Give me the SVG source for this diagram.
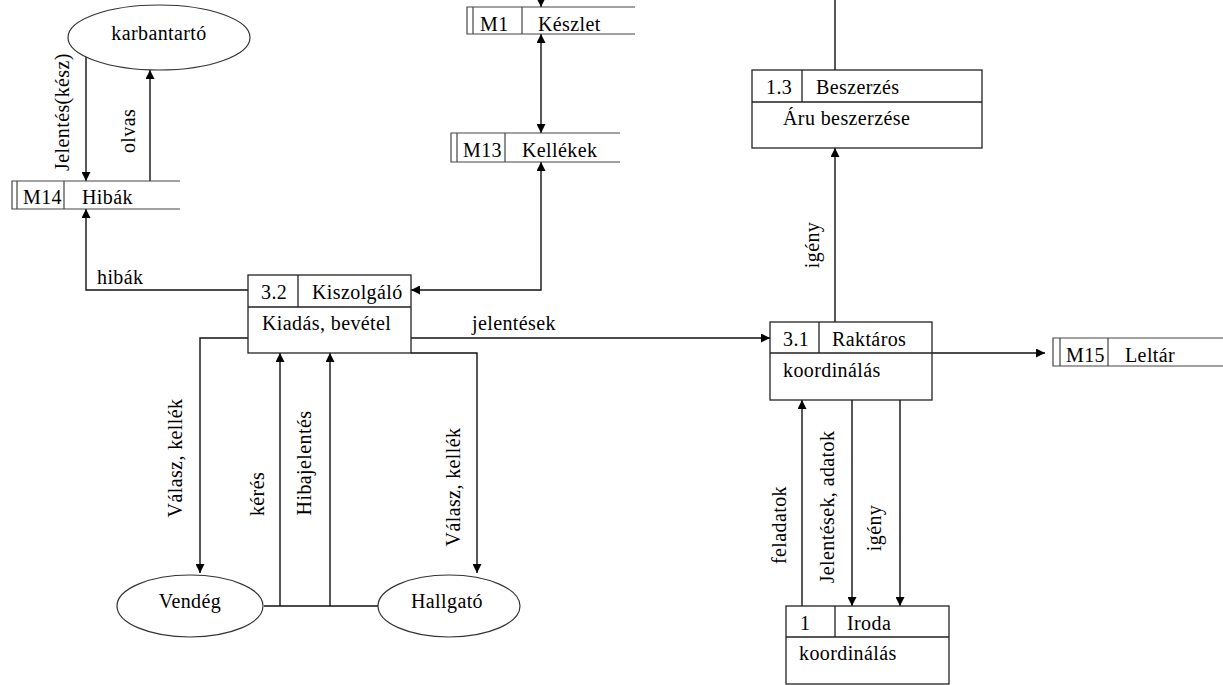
<svg xmlns="http://www.w3.org/2000/svg" width="1223" height="685" viewBox="0 0 1223 685">
  <defs>
    <marker id="arr" viewBox="0 0 10 10" refX="10" refY="5" markerWidth="9" markerHeight="9" markerUnits="userSpaceOnUse" orient="auto-start-reverse">
      <path d="M0,0 L10,5 L0,10 z" fill="#000"/>
    </marker>
    <style>
      text { font-family: "Times New Roman", "Liberation Serif", "DejaVu Serif", "Noto Serif", FreeSerif, Times, serif; font-size: 20px; fill: #000; letter-spacing: 0.4px; }
      .box { fill: #fff; stroke: #222; stroke-width: 1.3; }
      .ln { fill: none; stroke: #222; stroke-width: 1.3; }
      .st { fill: none; stroke: #444; stroke-width: 1.2; }
      .el { fill: #fff; stroke: #333; stroke-width: 1.2; }
      .mid { text-anchor: middle; }
      .flow { fill: none; stroke: #111; stroke-width: 1.4; }
    </style>
  </defs>

  <!-- data flows -->
  <g id="connectors">
    <path class="flow" d="M86,55 V181" marker-end="url(#arr)"/>
    <path class="flow" d="M150,181 V70" marker-end="url(#arr)"/>
    <path class="flow" d="M541,0 V7" marker-end="url(#arr)"/>
    <path class="flow" d="M541,34 V133" marker-start="url(#arr)" marker-end="url(#arr)"/>
    <path class="flow" d="M411,290 H541 V162" marker-start="url(#arr)" marker-end="url(#arr)"/>
    <path class="flow" d="M248,290 H86 V209" marker-end="url(#arr)"/>
    <path class="flow" d="M835,0 V70"/>
    <path class="flow" d="M835,322 V148" marker-end="url(#arr)"/>
    <path class="flow" d="M411,338 H770" marker-end="url(#arr)"/>
    <path class="flow" d="M932,353 H1045" marker-end="url(#arr)"/>
    <path class="flow" d="M248,338 H200 V573" marker-end="url(#arr)"/>
    <path class="flow" d="M411,353 H477 V573" marker-end="url(#arr)"/>
    <path class="flow" d="M264,606 H378"/>
    <path class="flow" d="M280,606 V353" marker-end="url(#arr)"/>
    <path class="flow" d="M330,606 V353" marker-end="url(#arr)"/>
    <path class="flow" d="M802,606 V400" marker-end="url(#arr)"/>
    <path class="flow" d="M852,400 V606" marker-end="url(#arr)"/>
    <path class="flow" d="M900,400 V606" marker-end="url(#arr)"/>

    <text transform="translate(69,112) rotate(-90)" class="mid">Jelentés(kész)</text>
    <text transform="translate(135,131) rotate(-90)" class="mid">olvas</text>
    <text x="97" y="284">hibák</text>
    <text x="472" y="330">jelentések</text>
    <text transform="translate(819,245) rotate(-90)" class="mid">igény</text>
    <text transform="translate(182,458) rotate(-90)" class="mid">Válasz, kellék</text>
    <text transform="translate(264,494) rotate(-90)" class="mid">kérés</text>
    <text transform="translate(311,463) rotate(-90)" class="mid">Hibajelentés</text>
    <text transform="translate(460,487) rotate(-90)" class="mid">Válasz, kellék</text>
    <text transform="translate(786,525) rotate(-90)" class="mid">feladatok</text>
    <text transform="translate(834,507) rotate(-90)" class="mid">Jelentések, adatok</text>
    <text transform="translate(881,528) rotate(-90)" class="mid">igény</text>
  </g>

  <!-- external entities -->
  <g id="karbantarto">
    <ellipse class="el" cx="159" cy="37.5" rx="91" ry="32.5"/>
    <text x="159" y="40" class="mid">karbantartó</text>
  </g>
  <g id="vendeg">
    <ellipse class="el" cx="190" cy="606" rx="73" ry="31"/>
    <text x="190" y="608" class="mid">Vendég</text>
  </g>
  <g id="hallgato">
    <ellipse class="el" cx="449" cy="606" rx="71" ry="31"/>
    <text x="447" y="608" class="mid">Hallgató</text>
  </g>

  <!-- data stores -->
  <g id="m14">
    <path class="st" d="M180,181 H12 V209 H180 M17,181 V209 M64,181 V209"/>
    <text x="23" y="204">M14</text>
    <text x="82" y="204">Hibák</text>
  </g>
  <g id="m1">
    <path class="st" d="M635,7 H467 V34 H635 M473,7 V34 M522,7 V34"/>
    <text x="480" y="31">M1</text>
    <text x="538" y="31">Készlet</text>
  </g>
  <g id="m13">
    <path class="st" d="M620,133 H451 V162 H620 M457,133 V162 M505,133 V162"/>
    <text x="463" y="157">M13</text>
    <text x="522" y="157">Kellékek</text>
  </g>
  <g id="m15">
    <path class="st" d="M1223,338 H1053 V366 H1223 M1060,338 V366 M1108,338 V366"/>
    <text x="1066" y="362">M15</text>
    <text x="1125" y="362">Leltár</text>
  </g>

  <!-- processes -->
  <g id="p13">
    <rect class="box" x="752" y="70" width="230" height="78"/>
    <path class="ln" d="M752,102 H982 M802,70 V102"/>
    <text x="766" y="94">1.3</text>
    <text x="816" y="94">Beszerzés</text>
    <text x="783" y="125">Áru beszerzése</text>
  </g>
  <g id="p32">
    <rect class="box" x="248" y="275" width="163" height="78"/>
    <path class="ln" d="M248,307 H411 M298,275 V307"/>
    <text x="261" y="299">3.2</text>
    <text x="312" y="299">Kiszolgáló</text>
    <text x="262" y="330">Kiadás, bevétel</text>
  </g>
  <g id="p31">
    <rect class="box" x="770" y="322" width="162" height="78"/>
    <path class="ln" d="M770,353 H932 M819,322 V353"/>
    <text x="783" y="346">3.1</text>
    <text x="832" y="346">Raktáros</text>
    <text x="783" y="377">koordinálás</text>
  </g>
  <g id="p1">
    <rect class="box" x="786" y="606" width="163" height="78"/>
    <path class="ln" d="M786,637 H949 M835,606 V637"/>
    <text x="800" y="630">1</text>
    <text x="847" y="630">Iroda</text>
    <text x="799" y="660">koordinálás</text>
  </g>
</svg>
